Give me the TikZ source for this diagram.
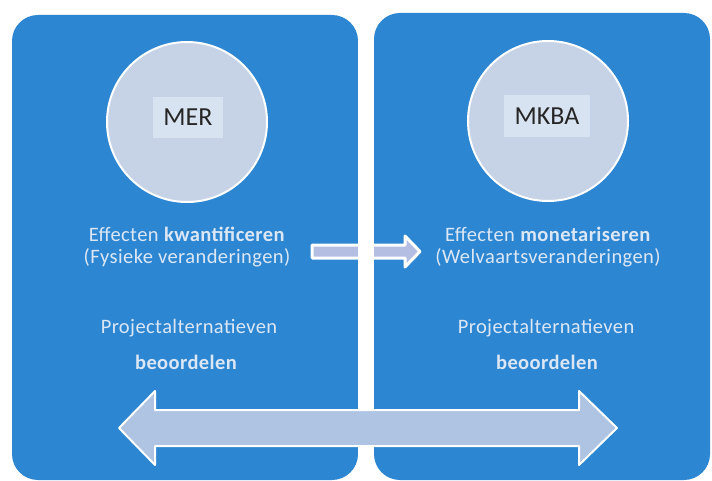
\documentclass[tikz,border=0pt]{standalone}
\usepackage{fontspec}
\setmainfont{Carlito}[LetterSpace=2]
\newfontfamily\tagfont{Carlito}
\definecolor{panel}{HTML}{2C86D2}
\definecolor{circ}{HTML}{C6D3E6}
\definecolor{lab}{HTML}{D8E3F1}
\definecolor{txt}{HTML}{DCE7F5}
\definecolor{arr}{HTML}{AFC3E3}
\definecolor{arrs}{HTML}{B4BEE2}
\tikzset{
  panelbox/.style={fill=panel, rounded corners=26pt},
  bubble/.style={circle, fill=circ, draw=white, line width=2pt, minimum size=160pt, inner sep=0pt},
  tag/.style={fill=lab, inner sep=0pt, font=\tagfont\fontsize{26}{28}\selectfont, text=black!85},
  body/.style={text=txt, align=center, font=\fontsize{20.5}{22}\selectfont},
  boldbody/.style={body, font=\bfseries\fontsize{20.5}{22}\selectfont},
  blockarrow/.style={fill=arr, draw=white, line width=2pt, line join=round},
}
\begin{document}
\begin{tikzpicture}[x=1pt,y=-1pt]
\useasboundingbox (0,0) rectangle (712,481);
\fill[white] (0,0) rectangle (712,481);
% panels
\fill[panelbox] (12,15) rectangle (358,480);
\fill[panelbox] (374,13) rectangle (710,480);
% circles
\node[bubble] (c1) at (187,122) {};
\node[bubble] (c2) at (548,121) {};
\node[tag, minimum width=70pt, minimum height=41pt] (mer) at (188,117.5) {MER};
\node[tag, minimum width=86pt, minimum height=42pt] (mkba) at (547,116) {MKBA};
% texts
\node[body] (t1) at (187,247) {Effecten \textbf{kwantificeren}\\(Fysieke veranderingen)};
\node[body] (t2) at (548,247) {Effecten \textbf{monetariseren}\\(Welvaartsveranderingen)};
\node[body] (p1) at (189,328) {Projectalternatieven};
\node[boldbody] (b1) at (186,362) {beoordelen};
\node[body] (p2) at (546,328) {Projectalternatieven};
\node[boldbody] (b2) at (547,362) {beoordelen};
% small arrow
\draw[blockarrow, fill=arrs, line width=3pt] (312,245) -- (405,245) -- (405,236) -- (420,251.5) -- (405,267) -- (405,258) -- (312,258) -- cycle;
% gap strip
\fill[white] (358,0) rectangle (374,481);
% big double arrow
\draw[blockarrow] (119,428) -- (155,391) -- (155,410) -- (579,410) -- (579,391) -- (617,428) -- (579,465) -- (579,446) -- (155,446) -- (155,465) -- cycle;
\end{tikzpicture}
\end{document}
